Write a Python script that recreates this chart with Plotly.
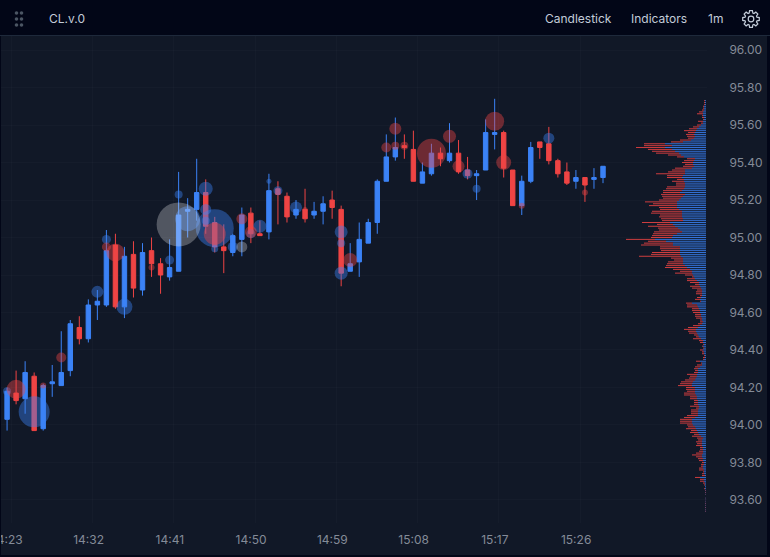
import math

import pandas as pd
import plotly.graph_objects as go

# one candle per minute from 14:23
opens = [94.03, 94.17, 94.14, 94.26, 93.98, 94.22, 94.21, 94.29, 94.52, 94.46, 94.64, 94.64, 94.96, 94.63, 94.91, 94.72, 94.93,
         94.86, 94.79, 94.82, 95.14, 95.15, 95.24, 95.08, 94.95, 94.92, 94.99, 95.13, 95.02, 95.03, 95.26, 95.22, 95.12, 95.15,
         95.12, 95.14, 95.20, 95.15, 94.82, 94.87, 94.97, 95.08, 95.30, 95.43, 95.49, 95.47, 95.29, 95.34, 95.45, 95.41, 95.45,
         95.36, 95.33, 95.36, 95.55, 95.56, 95.36, 95.17, 95.30, 95.51, 95.50, 95.41, 95.35, 95.30, 95.32, 95.31, 95.32]
highs = [94.20, 94.29, 94.34, 94.28, 94.22, 94.32, 94.50, 94.56, 94.58, 94.67, 94.72, 95.04, 95.02, 94.95, 94.98, 94.97, 95.00,
         94.89, 94.99, 95.35, 95.21, 95.42, 95.31, 95.11, 95.07, 95.02, 95.16, 95.16, 95.09, 95.34, 95.30, 95.24, 95.20, 95.26,
         95.19, 95.22, 95.25, 95.17, 94.97, 95.08, 95.10, 95.31, 95.55, 95.64, 95.55, 95.57, 95.40, 95.50, 95.48, 95.61, 95.52,
         95.43, 95.36, 95.63, 95.74, 95.57, 95.36, 95.33, 95.51, 95.51, 95.59, 95.42, 95.40, 95.36, 95.32, 95.37, 95.38]
lows = [93.97, 94.11, 94.06, 93.97, 93.97, 94.15, 94.21, 94.26, 94.43, 94.44, 94.56, 94.63, 94.62, 94.57, 94.68, 94.69, 94.79,
        94.70, 94.77, 94.82, 95.00, 95.09, 95.02, 94.92, 94.81, 94.90, 94.90, 94.97, 95.01, 94.99, 95.07, 95.08, 95.10, 95.08,
        95.10, 95.07, 95.10, 94.74, 94.82, 94.79, 94.97, 95.02, 95.30, 95.41, 95.42, 95.30, 95.29, 95.33, 95.38, 95.40, 95.34,
        95.31, 95.20, 95.36, 95.47, 95.32, 95.17, 95.12, 95.29, 95.42, 95.39, 95.32, 95.28, 95.26, 95.19, 95.26, 95.29]
closes = [94.18, 94.13, 94.28, 93.97, 94.21, 94.23, 94.28, 94.54, 94.46, 94.64, 94.66, 94.93, 94.63, 94.90, 94.73, 94.92, 94.86,
          94.80, 94.84, 95.12, 95.15, 95.24, 95.06, 94.95, 94.93, 95.01, 95.12, 95.02, 95.01, 95.25, 95.23, 95.11, 95.15, 95.10,
          95.14, 95.18, 95.16, 94.81, 94.86, 94.99, 95.08, 95.30, 95.43, 95.48, 95.48, 95.30, 95.35, 95.45, 95.42, 95.45, 95.35,
          95.33, 95.34, 95.56, 95.56, 95.37, 95.17, 95.30, 95.48, 95.48, 95.41, 95.34, 95.29, 95.32, 95.28, 95.32, 95.38]

# large trades, minute is the number of minutes after 14:23
buy_minute = [0, 3, 10, 13, 11, 18, 19, 20, 22, 22, 22, 23, 23, 25, 27, 28, 29, 30, 32, 37, 37, 37, 51, 52, 60]
buy_price = [94.18, 94.07, 94.71, 94.63, 94.99, 94.88, 95.23, 95.10, 95.26, 95.15, 95.09, 95.05, 94.94, 94.95, 95.02, 95.06,
             95.30, 95.25, 95.16, 95.03, 94.97, 94.81, 95.34, 95.26, 95.53]
buy_size = [8, 31, 12, 16, 9, 9, 8, 25, 14, 11, 8, 38, 7, 10, 9, 13, 5, 9, 12, 13, 8, 13, 10, 8, 11]

sell_minute = [1, 4, 6, 11, 12, 16, 23, 26, 27, 33, 38, 42, 43, 43, 44, 47, 49, 50, 54, 55, 57, 64]
sell_price = [94.19, 94.21, 94.36, 94.95, 94.92, 94.84, 95.02, 95.10, 95.03, 95.15, 94.88, 95.48, 95.58, 95.49, 95.49, 95.45,
              95.54, 95.38, 95.62, 95.40, 95.17, 95.24]
sell_size = [19, 6, 10, 9, 18, 6, 22, 11, 12, 5, 14, 10, 12, 8, 8, 29, 13, 12, 19, 15, 6, 6]

neutral_minute = [19, 26]
neutral_price = [95.07, 94.95]
neutral_size = [44, 11]

# volume profile, top level is 95.73 and every entry is one cent lower
buy_volume = [1, 1, 1, 2, 2, 2, 3, 3, 3, 2, 2, 3, 3, 5, 7, 9, 10, 11, 12, 11, 12, 15, 23, 41, 34, 41, 34, 31, 27, 25, 22, 11,
              12, 13, 13, 12, 14, 21, 21, 21, 23, 24, 22, 22, 21, 21, 21, 22, 24, 26, 21, 23, 25, 27, 29, 29, 29, 29, 27, 24,
              24, 24, 24, 23, 23, 36, 33, 31, 28, 26, 24, 29, 33, 34, 51, 40, 33, 33, 26, 26, 26, 26, 26, 25, 23, 23, 23, 23,
              21, 19, 16, 14, 14, 13, 12, 11, 9, 7, 7, 6, 5, 4, 4, 4, 4, 5, 6, 5, 14, 9, 8, 7, 6, 6, 5, 5, 4, 4, 3, 4, 6, 8,
              10, 10, 9, 8, 7, 5, 3, 3, 2, 3, 2, 3, 2, 2, 1, 1, 2, 6, 4, 4, 6, 8, 8, 8, 9, 9, 10, 11, 13, 14, 14, 11, 11, 11,
              11, 10, 9, 9, 8, 8, 8, 7, 7, 8, 8, 8, 8, 11, 14, 14, 14, 13, 11, 10, 9, 8, 7, 5, 3, 4, 4, 4, 4, 3, 3, 3, 3, 4,
              4, 3, 3, 2, 2, 3, 3, 2, 2, 2, 1, 6, 2, 2, 1, 1, 1, 1, 0.5, 0.5, 0.4, 0, 0.4, 0.3, 0.4, 0.5, 0.4, 0.5, 0.4, 0.5]
sell_volume = [1, 1, 1, 1, 1, 2, 4, 6, 1, 2, 1, 5, 2, 4, 6, 8, 12, 7, 8, 8, 6, 11, 12, 21, 28, 29, 24, 23, 23, 13, 7, 8, 10,
               11, 8, 11, 17, 13, 17, 29, 16, 15, 7, 12, 9, 9, 18, 18, 19, 17, 24, 21, 18, 20, 32, 24, 28, 18, 19, 30, 31, 22,
               23, 22, 21, 28, 16, 27, 20, 21, 28, 24, 21, 21, 29, 18, 29, 32, 20, 20, 19, 28, 29, 42, 12, 9, 15, 16, 19, 22,
               17, 12, 17, 8, 2, 8, 10, 9, 4, 10, 9, 5, 6, 6, 2, 4, 5, 1, 6, 10, 11, 7, 8, 7, 6, 6, 6, 2, 3, 4, 7, 10, 12, 8,
               8, 4, 3, 8, 4, 3, 1, 1, 1, 3, 2, 2, 1, 2, 1, 4, 1, 5, 5, 4, 3, 4, 10, 7, 7, 10, 12, 12, 14, 9, 9, 8, 11, 12, 7,
               7, 4, 4, 4, 9, 3, 7, 7, 7, 11, 11, 12, 12, 12, 6, 7, 10, 6, 8, 5, 9, 6, 4, 6, 5, 6, 3, 3, 4, 7, 10, 6, 5, 4, 2,
               3, 2, 4, 5, 1, 2, 3, 5, 4, 4, 2, 1, 0, 1, 0.5, 0.5, 0.3, 0, 0.3, 0.2, 0.3, 0.5, 0.3, 0.5, 0.3, 0.5]

x_tick_labels = ["14:23", "14:32", "14:41", "14:50", "14:59", "15:08", "15:17", "15:26"]

PANEL = "#111827"
TOPBAR = "#020617"
BLUE = "#3b82f6"
RED = "#ef4444"
MUTED = "#848b98"
HEADER = "#c3ccd9"
FONT = "Inter"

W, H = 770, 557
LEFT, RIGHT, TOP, BOTTOM = 0, 707, 36, 523

times = pd.date_range("2024-01-02 14:23", periods=len(opens), freq="min")
price_levels = [round(95.73 - 0.01 * i, 2) for i in range(len(buy_volume))]


def px_x(x):
    return (x - LEFT) / (RIGHT - LEFT)


def px_y(y):
    return (BOTTOM - y) / (BOTTOM - TOP)


def bubbles(minutes, prices, sizes, color):
    return go.Scatter(
        x=[times[m] for m in minutes],
        y=prices,
        mode="markers",
        marker=dict(size=sizes, sizemode="diameter", color=color, opacity=1, line=dict(width=0)),
        hoverinfo="skip",
        showlegend=False,
    )


def profile_lines(starts, lengths, color):
    # bars under 2 px get rounded by plotly, thin lines keep the striped look
    xs, ys = [], []
    for start, length, level in zip(starts, lengths, price_levels):
        xs += [start, start + length, None]
        ys += [level, level, None]
    return go.Scatter(x=xs, y=ys, xaxis="x2", mode="lines", line=dict(color=color, width=1, simplify=False),
                      opacity=0.85, hoverinfo="skip", showlegend=False)


def rect(x0, y0, x1, y1, color):
    return dict(type="rect", xref="paper", yref="paper", x0=px_x(x0), x1=px_x(x1), y0=px_y(y0), y1=px_y(y1),
                fillcolor=color, line_width=0, layer="above")


def gear_path(teeth=8, r_out=8.4, r_in=6.2):
    pts = []
    step = 2 * math.pi / teeth
    for i in range(teeth):
        a = i * step
        for da, r in [(-0.30, r_in), (-0.17, r_out), (0.17, r_out), (0.30, r_in)]:
            pts.append((r * math.cos(a + da), r * math.sin(a + da)))
    return "M " + " L ".join(f"{x:.2f},{y:.2f}" for x, y in pts) + " Z"


fig = go.Figure()
fig.add_trace(go.Candlestick(
    x=times, open=opens, high=highs, low=lows, close=closes,
    increasing=dict(line=dict(color=BLUE, width=1), fillcolor=BLUE),
    decreasing=dict(line=dict(color=RED, width=1), fillcolor=RED),
    showlegend=False,
))
fig.add_trace(bubbles(buy_minute, buy_price, buy_size, "rgba(59,130,246,0.42)"))
fig.add_trace(bubbles(sell_minute, sell_price, sell_size, "rgba(239,68,68,0.42)"))
fig.add_trace(bubbles(neutral_minute, neutral_price, neutral_size, "rgba(255,255,255,0.27)"))

fig.add_trace(profile_lines([0] * len(buy_volume), buy_volume, BLUE))
fig.add_trace(profile_lines(buy_volume, sell_volume, RED))

shapes = [
    rect(0, 0, W, 35, TOPBAR),
    rect(0, 35, W, 36, "#1e293b"),
    rect(0, 36, 1, H, TOPBAR),
    rect(767, 36, W, H, TOPBAR),
    rect(0, 555, W, H, TOPBAR),
]
for dx in (16.5, 21.5):
    for dy in (13, 19, 25):
        shapes.append(dict(type="circle", xref="paper", yref="paper", x0=px_x(dx - 1.8), x1=px_x(dx + 1.8),
                           y0=px_y(dy - 1.8), y1=px_y(dy + 1.8), fillcolor="#4b5563", line_width=0, layer="above"))
shapes.append(dict(type="path", xref="paper", yref="paper", xsizemode="pixel", ysizemode="pixel",
                   xanchor=px_x(751), yanchor=px_y(19), path=gear_path(),
                   line=dict(color=HEADER, width=1.2), layer="above"))
shapes.append(dict(type="circle", xref="paper", yref="paper", x0=px_x(751 - 2.8), x1=px_x(751 + 2.8),
                   y0=px_y(19 - 2.8), y1=px_y(19 + 2.8), line=dict(color=HEADER, width=1.2), layer="above"))

annotations = []
for label, x in [("CL.v.0", 47), ("Candlestick", 543), ("Indicators", 629), ("1m", 706)]:
    annotations.append(dict(text=label, xref="paper", yref="paper", x=px_x(x), y=px_y(19), xanchor="left", yanchor="middle",
                            showarrow=False, font=dict(family=FONT, size=12, color=HEADER)))

fig.update_layout(
    width=W,
    height=H,
    margin=dict(l=LEFT, r=W - RIGHT, t=TOP, b=H - BOTTOM, pad=0, autoexpand=False),
    paper_bgcolor=PANEL,
    plot_bgcolor=PANEL,
    showlegend=False,
    shapes=shapes,
    annotations=annotations,
    font=dict(family=FONT, size=12, color=MUTED),
    xaxis=dict(
        type="date",
        automargin=False,
        range=["2024-01-02 14:22:13", "2024-01-02 15:40:31"],
        tickvals=[f"2024-01-02 {t}:28" for t in x_tick_labels],
        ticktext=x_tick_labels,
        ticklabelshift=-4,
        ticklabeloverflow="allow",
        ticks="outside",
        ticklen=6,
        tickcolor="rgba(0,0,0,0)",
        tickfont=dict(family=FONT, size=12, color=MUTED),
        showgrid=True,
        gridcolor="rgba(255,255,255,0.02)",
        showline=False,
        zeroline=False,
        rangeslider=dict(visible=False),
    ),
    xaxis2=dict(range=[706, -1], overlaying="x", side="top", visible=False, showgrid=False),
    yaxis=dict(
        side="right",
        automargin=False,
        range=[93.477, 96.075],
        dtick=0.2,
        tick0=96,
        tickformat=".2f",
        ticks="outside",
        ticklen=19,
        tickcolor="rgba(0,0,0,0)",
        tickfont=dict(family=FONT, size=12, color=MUTED),
        showgrid=True,
        gridcolor="rgba(255,255,255,0.02)",
        showline=False,
        zeroline=False,
    ),
)

fig.write_html("out.html", config=dict(displayModeBar=False), post_script="document.body.style.margin='0';document.body.style.background='#020617';")
